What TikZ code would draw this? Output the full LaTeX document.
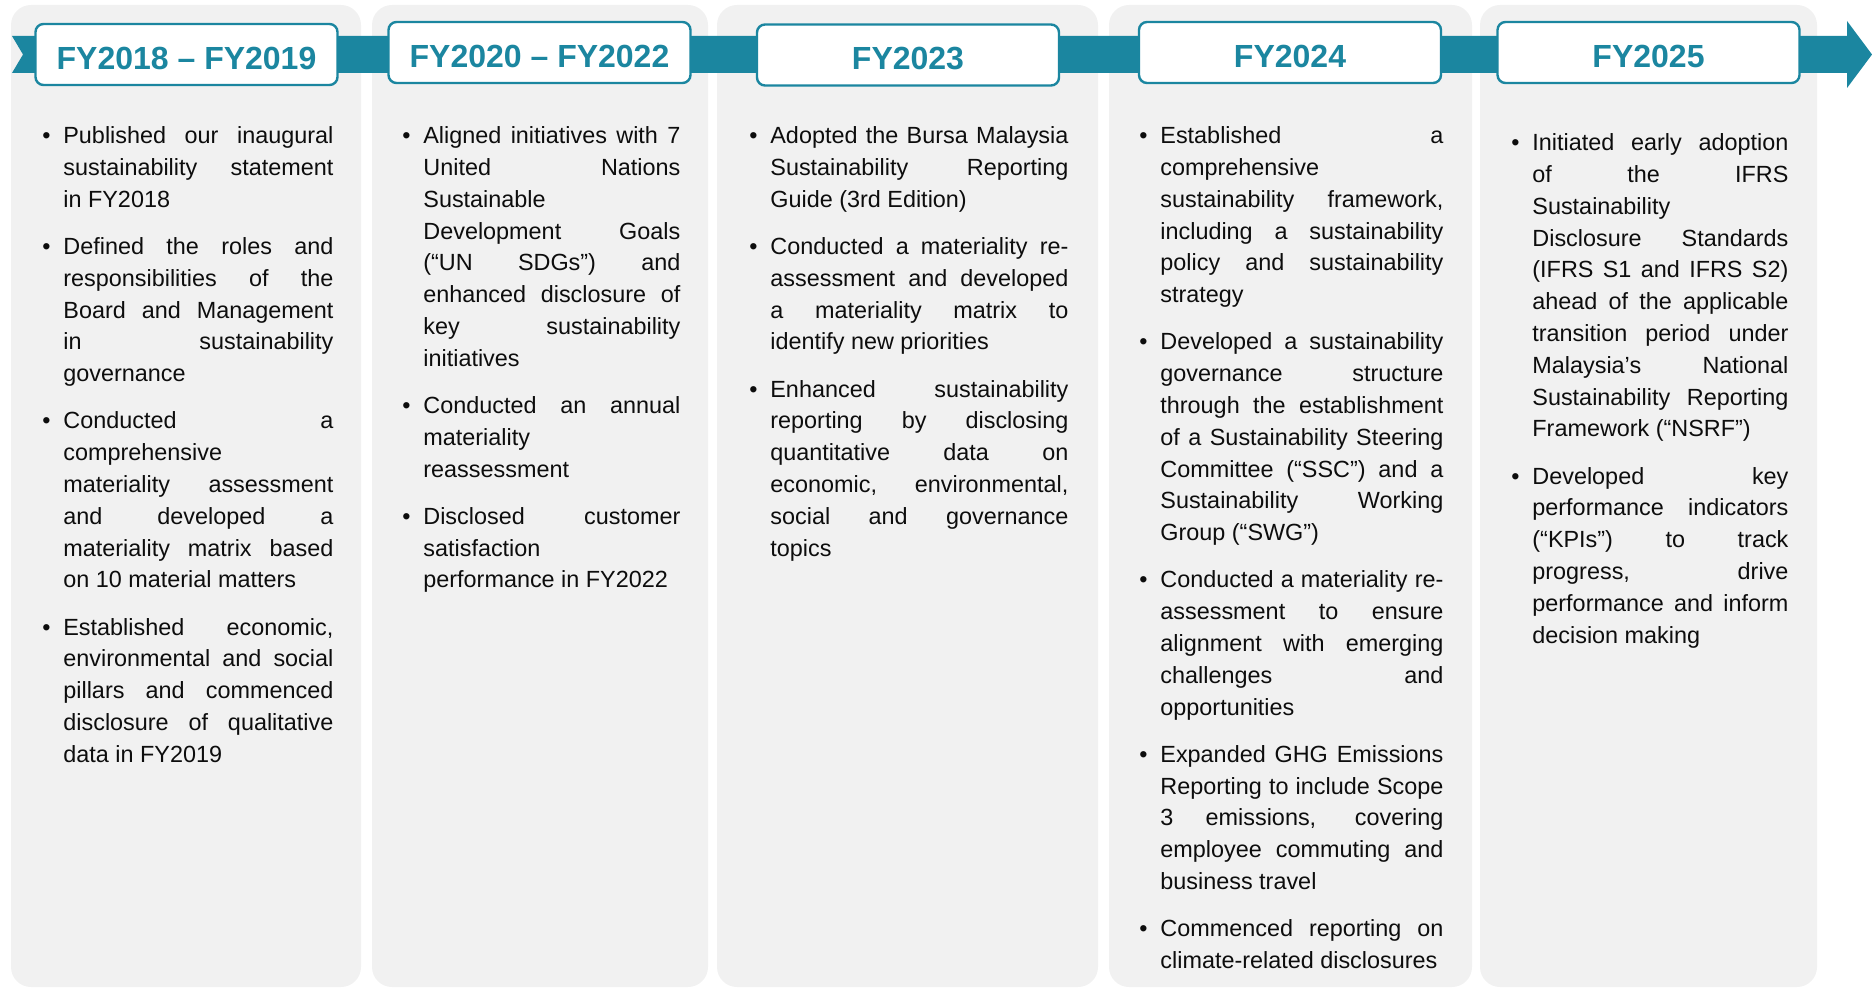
\documentclass[tikz,border=0pt]{standalone}
\usepackage{fontspec}
\setmainfont{Liberation Sans}
\usepackage{xcolor}
\definecolor{primary}{HTML}{1B86A0}
\definecolor{panelgray}{HTML}{F1F1F1}
\definecolor{bodytext}{HTML}{0D0D0D}

% justified lines with forced breaks, no hyphenation
\tolerance=10000 \hbadness=10000
\hyphenpenalty=10000 \exhyphenpenalty=10000
\newcommand{\brk}{\linebreak}
\newcommand{\bul}{\par\parskip=7.7pt\hangindent=10.5pt\hangafter=0\noindent\llap{\textbullet\hspace{6.4pt}}}

\begin{document}
\begin{tikzpicture}[x=0.5pt, y=-0.5pt,
    panel/.style={fill=panelgray, rounded corners=10pt},
    yearbox/.style={draw=primary, line width=1.2pt, fill=white, rounded corners=4pt, minimum width=151pt, minimum height=30.5pt, inner sep=0pt, text height=14.6pt, text depth=0pt, text=primary, font=\bfseries\fontsize{16}{18}\selectfont},
    itemlist/.style={anchor=base west, inner sep=0pt, align=justify, text=bodytext, font=\fontsize{11.7}{15.9}\selectfont}]

    \useasboundingbox (0,0) rectangle (1872,989);

    % grey columns
    \fill[panel] (11,5) rectangle (361,987);
    \fill[panel] (372,5) rectangle (708,987);
    \fill[panel] (717,5) rectangle (1098,987);
    \fill[panel] (1109,5) rectangle (1472,987);
    \fill[panel] (1480,5) rectangle (1817,987);

    % timeline ribbon
    \fill[primary] (12,36) -- (1847,36) -- (1847,21) -- (1872,54.5) -- (1847,88) -- (1847,73) -- (12,73) -- (23,54.5) -- cycle;

    % year headers
    \node[yearbox] (fy18) at (186.5,54.5) {FY2018 -- FY2019};
    \node[yearbox] (fy20) at (539.5,52.5) {FY2020 -- FY2022};
    \node[yearbox] (fy23) at (908,55) {FY2023};
    \node[yearbox] (fy24) at (1290,52.5) {FY2024};
    \node[yearbox] (fy25) at (1648.5,52.5) {FY2025};

    % bullet lists
    \node[itemlist, text width=145.5pt] (list18) at (42,96.5) {%
      \bul Published our inaugural\brk sustainability statement\brk in FY2018
      \bul Defined the roles and\brk responsibilities of the\brk Board and Management\brk in sustainability\brk governance
      \bul Conducted a\brk comprehensive\brk materiality assessment\brk and developed a\brk materiality matrix based\brk on 10 material matters
      \bul Established economic,\brk environmental and social\brk pillars and commenced\brk disclosure of qualitative\brk data in FY2019\par};
    \node[itemlist, text width=139pt] (list20) at (402,96.5) {%
      \bul Aligned initiatives with 7\brk United Nations\brk Sustainable\brk Development Goals\brk (“UN SDGs”) and\brk enhanced disclosure of\brk key sustainability\brk initiatives
      \bul Conducted an annual\brk materiality\brk reassessment
      \bul Disclosed customer\brk satisfaction\brk performance in FY2022\par};
    \node[itemlist, text width=159.5pt] (list23) at (749,96.5) {%
      \bul Adopted the Bursa Malaysia\brk Sustainability Reporting\brk Guide (3rd Edition)
      \bul Conducted a materiality re-\brk assessment and developed\brk a materiality matrix to\brk identify new priorities
      \bul Enhanced sustainability\brk reporting by disclosing\brk quantitative data on\brk economic, environmental,\brk social and governance\brk topics\par};
    \node[itemlist, text width=152pt] (list24) at (1139,96.5) {%
      \bul Established a\brk comprehensive\brk sustainability framework,\brk including a sustainability\brk policy and sustainability\brk strategy
      \bul Developed a sustainability\brk governance structure\brk through the establishment\brk of a Sustainability Steering\brk Committee (“SSC”) and a\brk Sustainability Working\brk Group (“SWG”)
      \bul Conducted a materiality re-\brk assessment to ensure\brk alignment with emerging\brk challenges and\brk opportunities
      \bul Expanded GHG Emissions\brk Reporting to include Scope\brk 3 emissions, covering\brk employee commuting and\brk business travel
      \bul Commenced reporting on\brk climate-related disclosures\par};
    \node[itemlist, text width=138.5pt] (list25) at (1511,103.5) {%
      \bul Initiated early adoption\brk of the IFRS\brk Sustainability\brk Disclosure Standards\brk (IFRS S1 and IFRS S2)\brk ahead of the applicable\brk transition period under\brk Malaysia’s National\brk Sustainability Reporting\brk Framework (“NSRF”)
      \bul Developed key\brk performance indicators\brk (“KPIs”) to track\brk progress, drive\brk performance and inform\brk decision making\par};
\end{tikzpicture}
\end{document}
